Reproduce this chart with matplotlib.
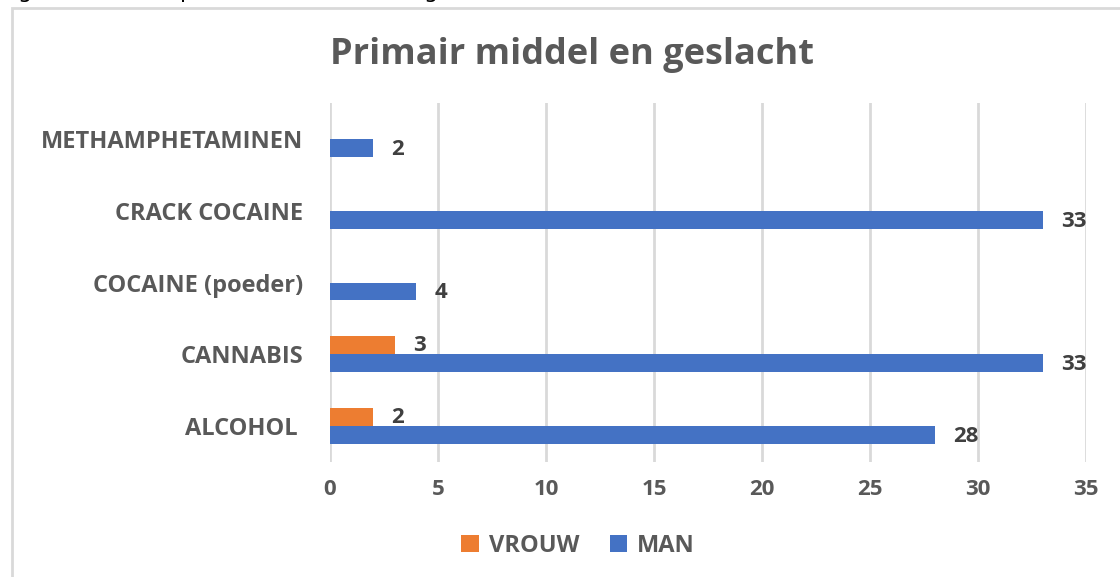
import matplotlib.pyplot as plt
from matplotlib.patches import Rectangle

# data
categories = ["ALCOHOL ", "CANNABIS", "COCAINE (poeder)", "CRACK COCAINE", "METHAMPHETAMINEN"]
vrouw = [2, 3, 0, 0, 0]
man = [28, 33, 4, 33, 2]
xticks = [0, 5, 10, 15, 20, 25, 30, 35]

ORANGE = "#ED7D31"
BLUE = "#4472C4"
GRAY_TXT = "#595959"
LABEL_TXT = "#404040"
GRID = "#D9D9D9"

plt.rcParams["font.family"] = ["Open Sans", "DejaVu Sans"]

W, H = 1120, 577
fig = plt.figure(figsize=(W / 100, H / 100), dpi=100)
fig.patch.set_facecolor("white")

# chart area border (runs off the right and bottom of the screenshot)
fig.patches.append(Rectangle((12 / W, -0.1), 1.2, (H - 8) / H + 0.1,
                             transform=fig.transFigure, fill=False,
                             edgecolor=GRID, linewidth=2))

# clipped fragments of the document line above the chart
for xp, ch in [(18, "g"), (180, "p"), (424, "g")]:
    fig.text(xp / W, 1 + 2 / H, ch, fontsize=16, color="black",
             family="DejaVu Sans", va="baseline", ha="left")

ax = fig.add_axes([330 / W, (H - 462) / H, (1086 - 330) / W, (462 - 103) / H])

pos = list(range(len(categories)))
h = 0.25
ax.barh([p + h / 2 for p in pos], vrouw, height=h, color=ORANGE, label="VROUW", zorder=3)
ax.barh([p - h / 2 for p in pos], man, height=h, color=BLUE, label="MAN", zorder=3)

for p, v in zip(pos, vrouw):
    if v:
        ax.annotate(str(v), (v, p + h / 2), xytext=(13, 0), textcoords="offset points",
                    va="center", ha="left", fontsize=16, fontweight="bold", color=LABEL_TXT)
for p, v in zip(pos, man):
    ax.annotate(str(v), (v, p - h / 2), xytext=(13, -1), textcoords="offset points",
                va="center", ha="left", fontsize=16, fontweight="bold", color=LABEL_TXT)

ax.set_xlim(0, 35)
ax.set_ylim(-0.5, len(categories) - 0.5)
ax.set_xticks(xticks)
ax.set_xticklabels([str(t) for t in xticks])
ax.set_yticks(pos)
ax.set_yticklabels(categories)
ax.tick_params(axis="x", length=0, labelcolor=GRAY_TXT, labelsize=16, pad=12)
ax.tick_params(axis="y", length=0, labelcolor=GRAY_TXT, labelsize=17, pad=19)
for lab in ax.get_xticklabels() + ax.get_yticklabels():
    lab.set_fontweight("bold")

ax.grid(axis="x", color=GRID, linewidth=2, zorder=0)
for s in ax.spines.values():
    s.set_visible(False)

fig.text(572 / W, (H - 55) / H, "Primair middel en geslacht", ha="center", va="center",
         fontsize=26, fontweight="bold", color=GRAY_TXT)

leg = fig.legend(loc="center", bbox_to_anchor=(578 / W, (H - 546) / H), ncol=2,
                 frameon=False, handlelength=0.75, handleheight=0.75, handletextpad=0.4,
                 columnspacing=1.3, prop={"size": 17, "weight": "bold"})
for t in leg.get_texts():
    t.set_color(GRAY_TXT)

fig.savefig("out.png", dpi=100, facecolor="white")
